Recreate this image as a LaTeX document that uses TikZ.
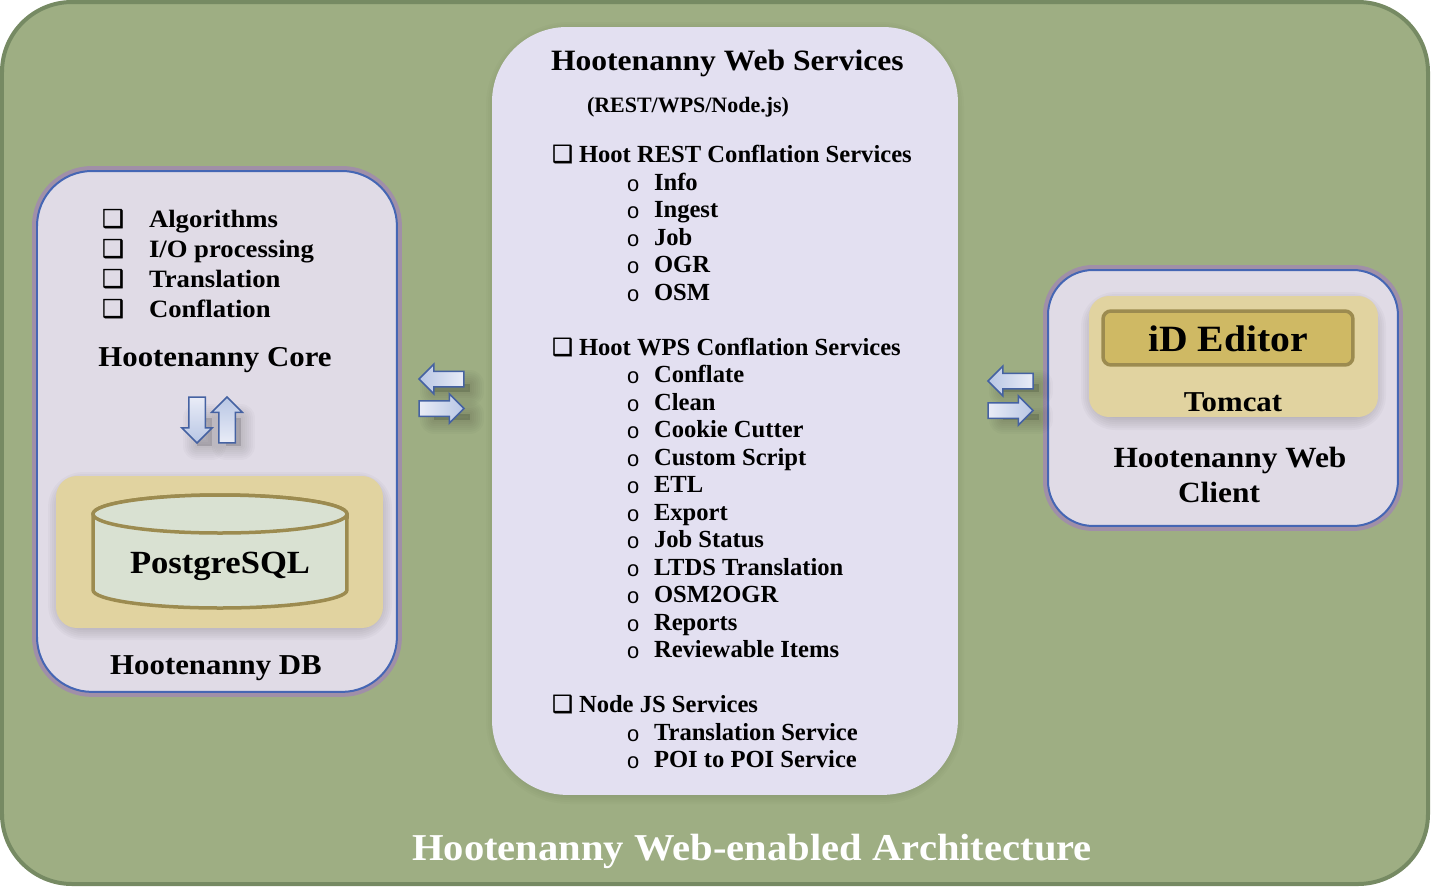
\documentclass[tikz,border=0pt]{standalone}
\usepackage{fontspec}
\setmainfont{Liberation Serif}[BoldFont={Liberation Serif Bold}]
\newfontfamily\widefont{Liberation Serif Bold}[FakeStretch=1.07]
\newfontfamily\boxfont{DejaVu Sans}[FakeBold=1.2]
\newfontfamily\ringfont{Liberation Mono}
\usetikzlibrary{positioning,shapes,arrows,calc}
\usetikzlibrary{shapes.arrows}
\definecolor{fieldgreen}{HTML}{9EAE83}
\definecolor{fieldedge}{HTML}{768A63}
\definecolor{servicefill}{HTML}{E3E0F1}
\definecolor{panelfill}{HTML}{E0DBE6}
\definecolor{panelblue}{HTML}{4566B4}
\definecolor{panelhalo}{HTML}{A08FA8}
\definecolor{tanfill}{HTML}{E1D3A0}
\definecolor{tanedge}{HTML}{9C8B50}
\definecolor{editorfill}{HTML}{CFB964}
\definecolor{dbfill}{HTML}{D9E1D2}
\definecolor{arrowedge}{HTML}{4562A2}
\definecolor{arrowdark}{HTML}{B8C6E4}
\definecolor{arrowlight}{HTML}{E9ECF7}
\tikzset{
  every node/.style={inner sep=0pt,outer sep=0pt},
  panel/.style={rectangle,anchor=north west,fill=panelfill,draw=panelblue,line width=.04cm,
    preaction={draw=panelhalo,line width=.2cm}},
  tanbox/.style={rectangle,anchor=north west,fill=tanfill,rounded corners=.42cm},
  blockarrow/.style={single arrow,anchor=tip,draw=arrowedge,line width=.03cm,single arrow head extend=.14cm,
    minimum height=.9cm,minimum width=.56cm,text width=.28cm,text height=.28cm,text depth=0pt},
  tall/.style={blockarrow,minimum height=.92cm,minimum width=.58cm,text width=.3cm,text height=.3cm},
  title/.style={anchor=base,font=\widefont\fontsize{16.4}{18}\selectfont},
  listtext/.style={anchor=base west,font=\fontsize{14}{16}\selectfont\bfseries},
  corelist/.style={anchor=base west,font=\widefont\fontsize{14.2}{16}\selectfont},
  boxbullet/.style={anchor=base west,font=\boxfont\fontsize{14}{15}\selectfont},
  ringbullet/.style={anchor=base west,font=\ringfont\fontsize{12.5}{15}\selectfont},
  dbline/.style={draw=tanedge,fill=dbfill,line width=.07cm},
}
\newcommand{\softshade}[6]{% x1 y1 x2 y2 radius opacity
  \foreach \w in {28,24,20,16,12,8,4}
    \draw[black,fill=black,opacity=#6,line width=\w*.02cm,line join=round,rounded corners=#5] (#1,#2) rectangle (#3,#4);
}
\begin{document}
\begin{tikzpicture}[x=.02cm,y=-.02cm]
  \useasboundingbox (0,0) rectangle (1441,893);

  % background
  \draw[fill=fieldgreen,draw=fieldedge,line width=.08cm,rounded corners=1.4cm] (2,2) rectangle (1428,884);

  % services panel
  \softshade{500}{36}{950}{790}{1.4cm}{.016}
  \node[rectangle,anchor=north west,fill=servicefill,rounded corners=1.5cm,
    minimum width=9.32cm,minimum height=15.36cm] (services) at (492,27) {};

  % left panel
  \node[panel,rounded corners=1.1cm,minimum width=7.2cm,minimum height=10.42cm] (corepanel) at (37,171) {};
  \softshade{62}{486}{378}{626}{.42cm}{.022}
  \node[tanbox,minimum width=6.54cm,minimum height=3.04cm] (dbtan) at (56,476) {};
  \draw[dbline] (93,514) -- (93,590) arc[start angle=180,end angle=360,x radius=2.54cm,y radius=.36cm]
    -- (347,514) arc[start angle=0,end angle=180,x radius=2.54cm,y radius=.38cm] -- cycle;
  \draw[dbline] (220,514) ellipse[x radius=2.54cm,y radius=.38cm];
  \node[title,font=\widefont\fontsize{18.4}{20}\selectfont] (postgres) at (220,573) {PostgreSQL};

  % right panel
  \node[panel,rounded corners=.9cm,minimum width=7cm,minimum height=5.12cm] (clientpanel) at (1048,270) {};
  \softshade{1095}{306}{1372}{416}{.4cm}{.022}
  \node[tanbox,rounded corners=.4cm,minimum width=5.78cm,minimum height=2.42cm] (tomcatbox) at (1089,296) {};
  \node[rectangle,anchor=north west,fill=editorfill,draw=tanedge,line width=.07cm,rounded corners=.16cm,
    minimum width=5cm,minimum height=1.08cm] (editor) at (1103,311) {};
  \node[title,font=\widefont\fontsize{21.1}{23}\selectfont] (editorlabel) at (1228,351) {iD Editor};
  \node[title] (tomcat) at (1233,411) {Tomcat};
  \node[title,font=\widefont\fontsize{16.7}{18}\selectfont] (webclient) at (1230,467) {Hootenanny Web};
  \node[title,font=\widefont\fontsize{16.7}{18}\selectfont] (clientline) at (1219,502) {Client};

  % left panel text
  \foreach \y/\txt in {227/Algorithms,257/I\slash O processing,287/Translation,317/Conflation} {
    \node[boxbullet] (corebox\y) at (102,\y) {❑};
    \node[corelist] (core\y) at (149,\y) {\txt};
  }
  \node[title] (corelabel) at (215,366) {Hootenanny Core};
  \node[title] (dblabel) at (216,674) {Hootenanny DB};

  % services text
  \node[title,anchor=base west,font=\widefont\fontsize{16.8}{19}\selectfont] (servicestitle) at (551,70) {Hootenanny Web Services};
  \node[listtext,font=\fontsize{12.5}{14}\selectfont\bfseries] (servicesnote) at (587,112) {(REST/WPS/Node.js)};
  \foreach \y/\txt in {162/Hoot REST Conflation Services,355/Hoot WPS Conflation Services,712/Node JS Services} {
    \node[boxbullet,font=\boxfont\fontsize{13.4}{15}\selectfont] (sectionbox\y) at (552,\y) {❑};
    \node[listtext] (section\y) at (579,\y) {\txt};
  }
  \foreach \y/\txt in {190/Info,217/Ingest,245/Job,272/OGR,300/OSM,
      382/Conflate,410/Clean,437/Cookie Cutter,465/Custom Script,492/ETL,520/Export,547/Job Status,
      575/LTDS Translation,602/OSM2OGR,630/Reports,657/Reviewable Items,740/Translation Service,767/POI to POI Service} {
    \node[ringbullet] (ring\y) at (626.5,\y+1) {o};
    \node[listtext] (item\y) at (654,\y) {\txt};
  }

  % block arrows
  \softshade{197}{418}{212}{446}{0pt}{.02}
  \softshade{226}{418}{241}{446}{0pt}{.02}
  \node[tall,shape border rotate=270,top color=arrowlight,bottom color=arrowdark] (dbdown) at (197,443) {};
  \node[tall,shape border rotate=90,top color=arrowdark,bottom color=arrowlight] (dbup) at (227,397) {};

  \softshade{434}{384}{470}{392}{0pt}{.02}
  \softshade{434}{414}{470}{420}{0pt}{.02}
  \node[blockarrow,shape border rotate=180,left color=arrowdark,right color=arrowlight] (coreback) at (419,379) {};
  \node[blockarrow,left color=arrowlight,right color=arrowdark] (coreout) at (464,408.5) {};

  \softshade{1003}{384}{1039}{392}{0pt}{.02}
  \softshade{1003}{414}{1039}{420}{0pt}{.02}
  \node[blockarrow,shape border rotate=180,left color=arrowdark,right color=arrowlight] (clientback) at (988,381) {};
  \node[blockarrow,left color=arrowlight,right color=arrowdark] (clientout) at (1033,410.5) {};

  % caption
  \node[title,white,font=\widefont\fontsize{21.6}{24}\selectfont] (caption) at (752,860) {Hootenanny Web-enabled Architecture};
\end{tikzpicture}
\end{document}
